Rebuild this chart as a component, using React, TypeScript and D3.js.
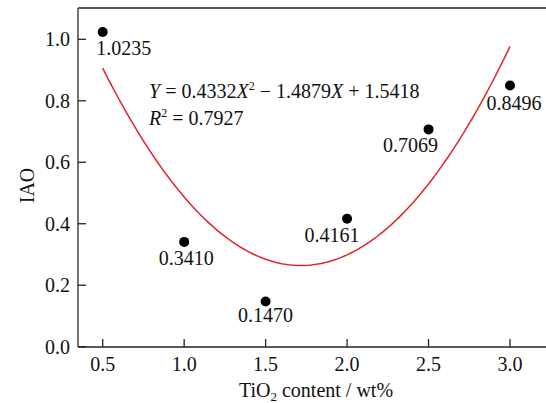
import React from "react";
import * as d3 from "d3";

const xValues = [0.5, 1.0, 1.5, 2.0, 2.5, 3.0];
const yValues = [1.0235, 0.341, 0.147, 0.4161, 0.7069, 0.8496];
const pointLabels = ["1.0235", "0.3410", "0.1470", "0.4161", "0.7069", "0.8496"];
const labelDx = [21, 2, 0, -15, -18, 4];
const labelDy = [23, 23, 20, 23, 23, 24];
const xTicks = [0.5, 1.0, 1.5, 2.0, 2.5, 3.0];
const yTicks = [0.0, 0.2, 0.4, 0.6, 0.8, 1.0];
const coefA = 0.4332;
const coefB = -1.4879;
const coefC = 1.5418;

const W = 546;
const H = 403;
const left = 78;
const top = 8;
const bottom = 347;
const right = 546;
const FONT = "'Liberation Serif', 'Times New Roman', serif";
const FS = 20;

export default function App() {
  const x = d3.scaleLinear().domain([0.5, 3.0]).range([102.7, 510]);
  const y = d3.scaleLinear().domain([0, 1.0]).range([346.7, 39.3]);
  const fitX = d3.range(0.5, 3.0001, 0.02);
  const line = d3
    .line<number>()
    .x((d) => x(d))
    .y((d) => y(coefA * d * d + coefB * d + coefC))
    .curve(d3.curveLinear);

  return (
    <svg
      width={W}
      height={H}
      style={{ position: "absolute", left: 0, top: 0, background: "#fff" }}
      fontFamily={FONT}
    >
      <line x1={left} y1={top} x2={right} y2={top} stroke="#222" strokeWidth={1.5} />
      <line x1={left} y1={top} x2={left} y2={bottom} stroke="#444" strokeWidth={1.5} />
      <line x1={left} y1={bottom} x2={right} y2={bottom} stroke="#222" strokeWidth={1.5} />
      {yTicks.map((t) => (
        <g key={"y" + t}>
          <line x1={left} x2={left + 8} y1={y(t)} y2={y(t)} stroke="#222" strokeWidth={1.3} />
          <text x={left - 8} y={y(t) + 7} textAnchor="end" fontSize={FS} fill="#111">
            {t.toFixed(1)}
          </text>
        </g>
      ))}
      {xTicks.map((t) => (
        <g key={"x" + t}>
          <line x1={x(t)} x2={x(t)} y1={bottom} y2={bottom - 8} stroke="#222" strokeWidth={1.3} />
          <text x={x(t)} y={bottom + 24} textAnchor="middle" fontSize={FS} fill="#111">
            {t.toFixed(1)}
          </text>
        </g>
      ))}
      <path d={line(fitX) || ""} fill="none" stroke="#e3232c" strokeWidth={1.5} />
      {xValues.map((xv, i) => (
        <g key={"p" + i}>
          <circle cx={x(xv)} cy={y(yValues[i])} r={5} fill="#000" />
          <text
            x={x(xv) + labelDx[i]}
            y={y(yValues[i]) + labelDy[i]}
            textAnchor="middle"
            fontSize={FS}
            fill="#111"
          >
            {pointLabels[i]}
          </text>
        </g>
      ))}
      <text x={149} y={98} fontSize={FS} fill="#111">
        <tspan fontStyle="italic">Y</tspan>
        <tspan> = 0.4332</tspan>
        <tspan fontStyle="italic">X</tspan>
        <tspan fontSize={12} dy={-8}>2</tspan>
        <tspan dy={8}> − 1.4879</tspan>
        <tspan fontStyle="italic">X</tspan>
        <tspan> + 1.5418</tspan>
      </text>
      <text x={149} y={125} fontSize={FS} fill="#111">
        <tspan fontStyle="italic">R</tspan>
        <tspan fontSize={12} dy={-8}>2</tspan>
        <tspan dy={8}> = 0.7927</tspan>
      </text>
      <text
        transform={`translate(34, ${(top + bottom) / 2 + 8}) rotate(-90)`}
        textAnchor="middle"
        fontSize={FS}
        fill="#111"
      >
        IAO
      </text>
      <text x={316} y={397} textAnchor="middle" fontSize={FS} fill="#111">
        <tspan>TiO</tspan>
        <tspan fontSize={13} dy={4}>2</tspan>
        <tspan dy={-4}> content / wt%</tspan>
      </text>
    </svg>
  );
}
